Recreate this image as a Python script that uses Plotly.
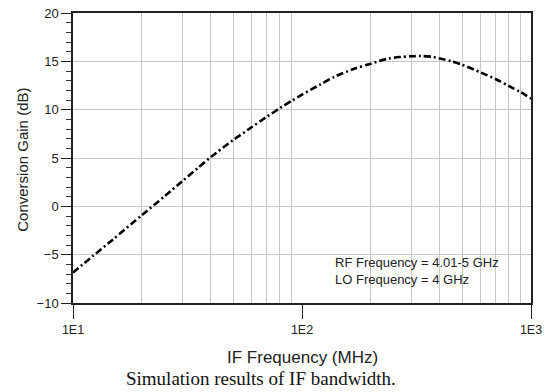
import plotly.graph_objects as go

# IF frequency (MHz) and conversion gain (dB)
if_freq = [10, 12.2, 15, 20, 25, 30, 35, 40, 50, 60, 70, 80, 90, 100, 120, 140,
           170, 200, 240, 270, 300, 330, 370, 400, 450, 500, 600, 700, 800, 900, 1000]
conv_gain = [-6.85, -5.15, -3.4, -0.9, 1.0, 2.6, 3.95, 5.1, 6.85, 8.15, 9.25, 10.15,
             10.9, 11.55, 12.6, 13.45, 14.25, 14.76, 15.3, 15.45, 15.52, 15.55, 15.47,
             15.3, 15.0, 14.65, 13.87, 13.17, 12.45, 11.82, 11.15]

x_major = [10, 100, 1000]
x_major_text = ["1E1", "1E2", "1E3"]
x_minor = [20, 30, 40, 50, 60, 70, 80, 90, 200, 300, 400, 500, 600, 700, 800, 900]

annotation_lines = ["RF Frequency = 4.01-5 GHz", "LO Frequency = 4 GHz"]
caption = "Simulation results of IF bandwidth."

font_sans = "Liberation Sans, Arial, sans-serif"
font_serif = "Liberation Serif, Times New Roman, serif"

W, H = 545, 392
plot_l, plot_r, plot_t, plot_b = 72.5, 531.5, 12.7, 303


def px_x(px):
    return (px - plot_l) / (plot_r - plot_l)


def px_y(py):
    return (plot_b - py) / (plot_b - plot_t)


fig = go.Figure()
fig.add_trace(go.Scatter(
    x=if_freq, y=conv_gain, mode="lines",
    line=dict(color="black", width=2.6, dash="7px,3px,2px,3px", shape="spline", smoothing=0.8),
    showlegend=False, hoverinfo="skip",
))

fig.update_layout(
    width=W, height=H, autosize=False,
    margin=dict(l=plot_l, r=W - plot_r, t=plot_t, b=H - plot_b, pad=0),
    paper_bgcolor="white", plot_bgcolor="white",
    font=dict(family=font_sans, color="#222", size=12),
    xaxis=dict(
        type="log", range=[1, 3], automargin=False,
        tickmode="array", tickvals=x_major, ticktext=x_major_text,
        ticks="outside", ticklen=14, tickwidth=1.3, tickcolor="#222",
        showgrid=False, zeroline=False,
        showline=True, linecolor="#222", linewidth=1.5, mirror=True,
        minor=dict(tickmode="array", tickvals=x_minor, ticks="", showgrid=True,
                   gridcolor="#c8c8c8", gridwidth=1),
        tickfont=dict(size=12.5, family=font_sans),
    ),
    yaxis=dict(
        range=[-10, 20], dtick=5, tick0=0, automargin=False,
        ticks="outside", ticklen=10, tickwidth=1.3, tickcolor="#222",
        showgrid=True, gridcolor="#c8c8c8", gridwidth=1, zeroline=False,
        showline=True, linecolor="#222", linewidth=1.5, mirror=True,
        minor=dict(dtick=1, ticks="outside", ticklen=5, tickwidth=1, tickcolor="#333", showgrid=False),
        tickfont=dict(size=13, family=font_sans),
    ),
)

# axis titles as annotations for exact placement
fig.add_annotation(x=px_x(303), y=px_y(358), xref="x domain", yref="y domain",
                   text="IF Frequency (MHz)", showarrow=False, xanchor="center", yanchor="middle",
                   font=dict(size=17, family=font_sans, color="#222"))
fig.add_annotation(x=px_x(22), y=px_y(160), xref="x domain", yref="y domain",
                   text="Conversion Gain (dB)", showarrow=False, textangle=-90,
                   xanchor="center", yanchor="middle",
                   font=dict(size=15, family=font_sans, color="#222"))

# in-plot note
for line, cy in zip(annotation_lines, [262, 279]):
    fig.add_annotation(x=px_x(333), y=px_y(cy), xref="x domain", yref="y domain",
                       text=line, showarrow=False, xanchor="left", yanchor="middle",
                       font=dict(size=13, family=font_sans, color="#222"))

# caption
fig.add_annotation(x=px_x(261), y=px_y(379), xref="x domain", yref="y domain",
                   text=caption, showarrow=False, xanchor="center", yanchor="middle",
                   font=dict(size=19, family=font_serif, color="#111"))

fig.write_html("out.html")
